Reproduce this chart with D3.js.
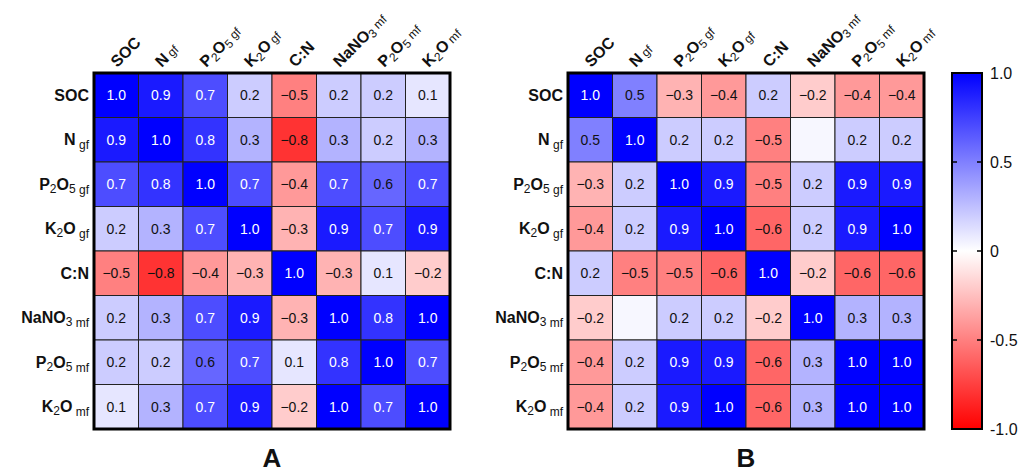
<!DOCTYPE html>
<html>
<head>
<meta charset="utf-8">
<script src="https://cdn.jsdelivr.net/npm/d3@7"></script>
<style>
  body { margin: 0; background: #fff; }
  svg { display: block; font-family: "Liberation Sans", Arial, sans-serif; }
</style>
</head>
<body>
<svg id="chart" width="1024" height="474"></svg>
<script>
// variable names, split in parts: [text, kind] kind = "" normal, "s" small subscript (2,5,3), "q" qualifier (gf/mf)
var varNames = [
  [["SOC",""]],
  [["N",""],[" gf","q"]],
  [["P",""],["2","s"],["O",""],["5","s"],[" gf","q"]],
  [["K",""],["2","s"],["O",""],[" gf","q"]],
  [["C:N",""]],
  [["NaNO",""],["3","s"],[" mf","q"]],
  [["P",""],["2","s"],["O",""],["5","s"],[" mf","q"]],
  [["K",""],["2","s"],["O",""],[" mf","q"]]
];

var corrA = [
  [ 1.0, 0.9, 0.7, 0.2,-0.5, 0.2, 0.2, 0.1],
  [ 0.9, 1.0, 0.8, 0.3,-0.8, 0.3, 0.2, 0.3],
  [ 0.7, 0.8, 1.0, 0.7,-0.4, 0.7, 0.6, 0.7],
  [ 0.2, 0.3, 0.7, 1.0,-0.3, 0.9, 0.7, 0.9],
  [-0.5,-0.8,-0.4,-0.3, 1.0,-0.3, 0.1,-0.2],
  [ 0.2, 0.3, 0.7, 0.9,-0.3, 1.0, 0.8, 1.0],
  [ 0.2, 0.2, 0.6, 0.7, 0.1, 0.8, 1.0, 0.7],
  [ 0.1, 0.3, 0.7, 0.9,-0.2, 1.0, 0.7, 1.0]
];

var corrB = [
  [ 1.0, 0.5,-0.3,-0.4, 0.2,-0.2,-0.4,-0.4],
  [ 0.5, 1.0, 0.2, 0.2,-0.5, 0.03, 0.2, 0.2],
  [-0.3, 0.2, 1.0, 0.9,-0.5, 0.2, 0.9, 0.9],
  [-0.4, 0.2, 0.9, 1.0,-0.6, 0.2, 0.9, 1.0],
  [ 0.2,-0.5,-0.5,-0.6, 1.0,-0.2,-0.6,-0.6],
  [-0.2, 0.03, 0.2, 0.2,-0.2, 1.0, 0.3, 0.3],
  [-0.4, 0.2, 0.9, 0.9,-0.6, 0.3, 1.0, 1.0],
  [-0.4, 0.2, 0.9, 1.0,-0.6, 0.3, 1.0, 1.0]
];

var legendTicks = [1.0, 0.5, 0, -0.5, -1.0];
var legendTickText = ["1.0", "0.5", "0", "-0.5", "-1.0"];
var panelTitles = ["A", "B"];

var svg = d3.select("#chart");
var color = d3.scaleLinear().domain([-1, 0, 1]).range(["#ff0000", "#ffffff", "#0000ff"]);
var fmt = d3.format(".1f");
var gridSize = 356, gridTop = 73;

function addParts(textSel, parts, big, small, isRow) {
  parts.forEach(function (p) {
    var t = textSel.append("tspan").text(p[0]);
    if (p[1] == "") {
      t.attr("font-weight", "bold").attr("font-size", big);
    } else if (p[1] == "s") {
      t.attr("font-size", small).attr("baseline-shift", "-25%");
    } else {
      t.attr("font-size", small).attr("baseline-shift", isRow ? "-30%" : "0%");
    }
  });
}

function drawPanel(data, x0, title) {
  var band = d3.scaleBand().domain(d3.range(varNames.length)).range([0, gridSize]);
  var g = svg.append("g").attr("transform", "translate(" + x0 + "," + gridTop + ")");

  var cells = [];
  data.forEach(function (row, i) {
    row.forEach(function (v, j) { cells.push({ r: i, c: j, v: v }); });
  });

  g.selectAll("rect.cell").data(cells).enter().append("rect")
    .attr("class", "cell")
    .attr("x", d => band(d.c)).attr("y", d => band(d.r))
    .attr("width", band.bandwidth()).attr("height", band.bandwidth())
    .attr("fill", d => color(d.v))
    .attr("stroke", "#222").attr("stroke-width", 1);

  g.selectAll("text.val").data(cells.filter(d => fmt(d.v) != "0.0")).enter().append("text")
    .attr("class", "val")
    .attr("x", d => band(d.c) + band.bandwidth() / 2)
    .attr("y", d => band(d.r) + band.bandwidth() / 2)
    .attr("dy", "0.35em")
    .attr("text-anchor", "middle")
    .attr("font-size", 14)
    .attr("fill", d => d.v >= 0.65 ? "#fff" : "#111")
    .text(d => fmt(d.v));

  g.append("rect").attr("x", 0).attr("y", 0).attr("width", gridSize).attr("height", gridSize)
    .attr("fill", "none").attr("stroke", "#000").attr("stroke-width", 3);

  // row labels
  varNames.forEach(function (parts, i) {
    var t = g.append("text")
      .attr("x", -5).attr("y", band(i) + band.bandwidth() / 2)
      .attr("dy", "0.35em").attr("text-anchor", "end").attr("fill", "#111");
    addParts(t, parts, 16, 12, true);
  });

  // column labels, rotated
  varNames.forEach(function (parts, j) {
    var cx = band(j) + band.bandwidth() / 2 + 1;
    var t = g.append("text")
      .attr("transform", "translate(" + cx + ",-5) rotate(-45)")
      .attr("text-anchor", "start").attr("fill", "#111");
    addParts(t, parts, 16, 12, false);
  });

  svg.append("text")
    .attr("x", x0 + gridSize / 2).attr("y", 467)
    .attr("text-anchor", "middle").attr("font-weight", "bold").attr("font-size", 26)
    .attr("fill", "#111")
    .text(title);
}

drawPanel(corrA, 94, panelTitles[0]);
drawPanel(corrB, 568, panelTitles[1]);

// colour bar
var barX = 952, barW = 30;
var yBar = d3.scaleLinear().domain([-1, 1]).range([gridTop + gridSize, gridTop]);
var defs = svg.append("defs");
var grad = defs.append("linearGradient").attr("id", "cb")
  .attr("x1", "0").attr("y1", "1").attr("x2", "0").attr("y2", "0");
[-1, 0, 1].forEach(function (v) {
  grad.append("stop").attr("offset", (v + 1) / 2).attr("stop-color", color(v));
});
svg.append("rect").attr("x", barX).attr("y", yBar(1)).attr("width", barW)
  .attr("height", yBar(-1) - yBar(1)).attr("fill", "url(#cb)")
  .attr("stroke", "#000").attr("stroke-width", 2);

var inner = legendTicks.filter(v => Math.abs(v) < 1);
svg.selectAll("line.tl").data(inner).enter().append("line")
  .attr("x1", barX).attr("x2", barX + 5).attr("y1", d => yBar(d)).attr("y2", d => yBar(d))
  .attr("stroke", "#000").attr("stroke-width", 1.5);
svg.selectAll("line.tr").data(inner).enter().append("line")
  .attr("x1", barX + barW - 5).attr("x2", barX + barW).attr("y1", d => yBar(d)).attr("y2", d => yBar(d))
  .attr("stroke", "#000").attr("stroke-width", 1.5);

svg.selectAll("text.lt").data(legendTicks).enter().append("text")
  .attr("x", barX + barW + 8).attr("y", d => yBar(d))
  .attr("dy", "0.35em").attr("font-size", 16).attr("fill", "#111")
  .text((d, i) => legendTickText[i]);
</script>
</body>
</html>
